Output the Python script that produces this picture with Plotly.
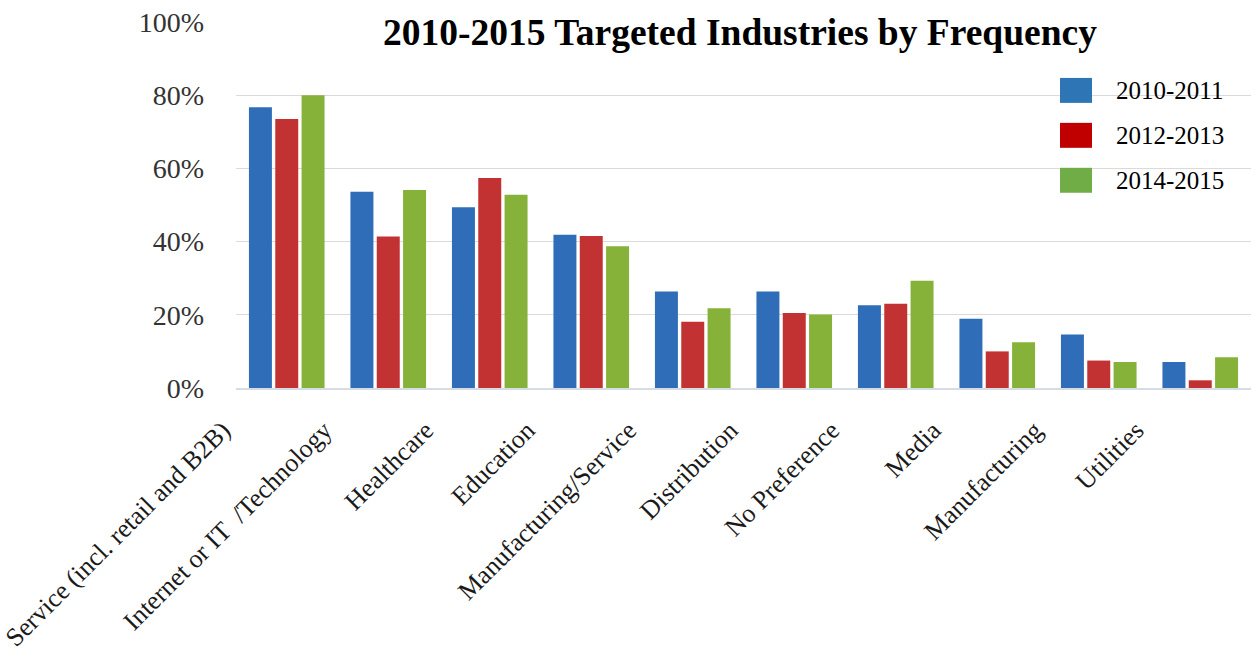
import plotly.graph_objects as go

categories = ["Service (incl. retail and B2B)", "Internet or IT  /Technology", "Healthcare",
              "Education", "Manufacturing/Service", "Distribution", "No Preference",
              "Media", "Manufacturing", "Utilities"]
series_names = ["2010-2011", "2012-2013", "2014-2015"]
v2010_2011 = [76.7, 53.6, 49.4, 41.9, 26.4, 26.4, 22.6, 18.9, 14.6, 7.1]
v2012_2013 = [73.5, 41.4, 57.4, 41.5, 18.1, 20.5, 23.0, 10.0, 7.5, 2.1]
v2014_2015 = [80.0, 54.1, 52.8, 38.7, 21.8, 20.1, 29.3, 12.5, 7.1, 8.4]
y_ticks = [0, 20, 40, 60, 80, 100]
y_tick_labels = ["0%", "20%", "40%", "60%", "80%", "100%"]

bar_colors = ["#2F6DB8", "#C23232", "#86B23A"]
legend_colors = ["#2E75B6", "#C00000", "#70AD47"]
values = [v2010_2011, v2012_2013, v2014_2015]

W, H = 1255, 660
L, R, T, B = 236, 4, 22, 271.5

fig = go.Figure()
for name, vals, col in zip(series_names, values, bar_colors):
    fig.add_trace(go.Bar(x=categories, y=vals, name=name, marker_color=col,
                         marker_line_width=0, showlegend=False))

serif = "Liberation Serif, Times New Roman, serif"

# custom legend (large square swatches)
plot_w = W - L - R
plot_h = H - T - B
def px_x(px):
    return (px - L) / plot_w
def px_y(py):
    return (H - B - py) / plot_h

row_centers = [90.5, 135.5, 180.5]
for name, col, cy in zip(series_names, legend_colors, row_centers):
    fig.add_shape(type="rect", xref="paper", yref="paper",
                  x0=px_x(1060), x1=px_x(1092), y0=px_y(cy + 12.5), y1=px_y(cy - 12.5),
                  fillcolor=col, line_width=0)
    fig.add_annotation(xref="paper", yref="paper", x=px_x(1114), y=px_y(cy),
                       text=name, showarrow=False, xanchor="left", yanchor="middle",
                       font=dict(family=serif, size=25, color="#000000"))

fig.update_layout(
    width=W, height=H,
    margin=dict(l=L, r=R, t=T, b=B, pad=0),
    paper_bgcolor="white", plot_bgcolor="white",
    barmode="group", bargap=0.222, bargroupgap=0.127,
    title=dict(text="<b>2010-2015 Targeted Industries by Frequency</b>",
               x=740 / W, xanchor="center", y=1 - 32 / H, yanchor="middle",
               xref="container", yref="container",
               font=dict(family=serif, size=37.5, color="#000000")),
    xaxis=dict(tickangle=-45, showgrid=False, showline=True, linecolor="#D5DCE4",
               linewidth=1.5, ticks="", ticklabelshift=-64, ticklabelstandoff=15,
               automargin=False,
               tickfont=dict(family=serif, size=26, color="#1A1A1A")),
    yaxis=dict(range=[0, 100], tickvals=y_ticks, ticktext=y_tick_labels,
               showgrid=False, zeroline=False, ticks="", ticklabelstandoff=31,
               automargin=False,
               tickfont=dict(family=serif, size=28, color="#333333"),
               minor=dict(tickvals=y_ticks[1:-1], showgrid=True, gridcolor="#DADADA",
                          gridwidth=1.2, ticks="")),
)

fig.write_html("out.html")
